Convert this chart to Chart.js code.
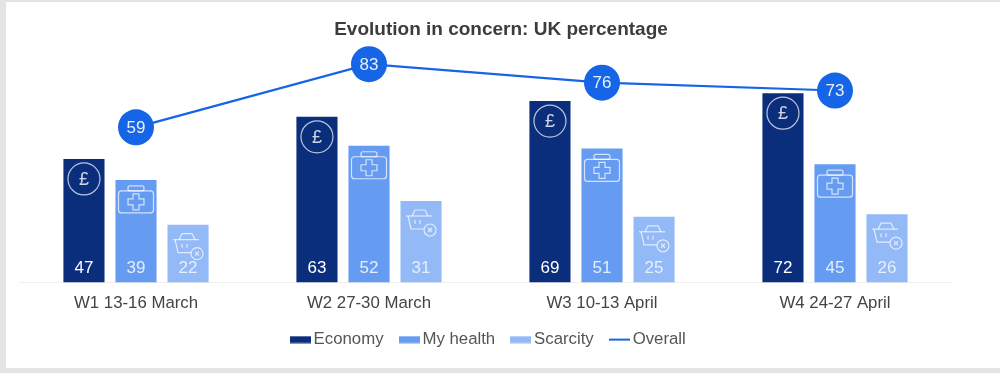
<!DOCTYPE html>
<html><head><meta charset="utf-8">
<script src="https://cdn.jsdelivr.net/npm/chart.js@4"></script>
<style>
html,body{margin:0;padding:0;background:#fff;width:1000px;height:373px;overflow:hidden}
#wrap{position:relative;width:1000px;height:373px}
.f{position:absolute;background:#e2e4e6}
canvas{position:absolute;left:0;top:0;filter:blur(0.4px)}
</style></head><body>
<div id="wrap">
<div class="f" style="left:0;top:0;width:1000px;height:2px"></div>
<div class="f" style="left:0;top:0;width:6px;height:373px"></div>
<div class="f" style="left:0;top:368px;width:1000px;height:5px"></div>
<canvas id="c" width="1000" height="373"></canvas>
</div>
<script>
const categories = ['W1 13-16 March','W2 27-30 March','W3 10-13 April','W4 24-27 April'];
const economy = [47,63,69,72];
const myHealth = [39,52,51,45];
const scarcity = [22,31,25,26];
const overall = [59,83,76,73];
const COL = {eco:'#0b2e7c',health:'#659cf2',scar:'#93b9f7',line:'#1565e6'};
const FONT = '"Liberation Sans", Arial, sans-serif';

function marker(color,h){
  const m=document.createElement('canvas');m.width=21;m.height=8;
  const x=m.getContext('2d');x.fillStyle=color;x.fillRect(0,(8-h)/2,21,h);return m;
}
const markers=[marker(COL.eco,7),marker(COL.health,7),marker(COL.scar,7),marker(COL.line,2)];

function poundIcon(ctx,el){
  const cx=el.x,cy=el.y+20;
  ctx.beginPath();ctx.arc(cx,cy,16,0,Math.PI*2);ctx.stroke();
  ctx.font='18px '+FONT;ctx.textAlign='center';ctx.textBaseline='middle';
  ctx.fillText('£',cx,cy+1);
}
function caseIcon(ctx,el){
  const cx=el.x,t=el.y+11;
  ctx.beginPath();ctx.roundRect(cx-17.5,t,35,22,3);ctx.stroke();
  ctx.beginPath();ctx.roundRect(cx-8,t-5,16,5,2);ctx.stroke();
  const c=t+11,a=3,b=8;
  ctx.beginPath();
  ctx.moveTo(cx-a,c-b);ctx.lineTo(cx+a,c-b);ctx.lineTo(cx+a,c-a);ctx.lineTo(cx+b,c-a);
  ctx.lineTo(cx+b,c+a);ctx.lineTo(cx+a,c+a);ctx.lineTo(cx+a,c+b);ctx.lineTo(cx-a,c+b);
  ctx.lineTo(cx-a,c+a);ctx.lineTo(cx-b,c+a);ctx.lineTo(cx-b,c-a);ctx.lineTo(cx-a,c-a);ctx.closePath();ctx.stroke();
}
function basketIcon(ctx,el){
  const cx=el.x-1,t=el.y+15;
  ctx.beginPath();ctx.moveTo(cx-14,t);ctx.lineTo(cx+12,t);ctx.stroke();
  ctx.beginPath();ctx.moveTo(cx-12,t);ctx.lineTo(cx-9,t+13);ctx.lineTo(cx+4,t+13);ctx.stroke();
  ctx.beginPath();ctx.moveTo(cx-8,t);ctx.lineTo(cx-5,t-6);ctx.lineTo(cx+5,t-6);ctx.lineTo(cx+8,t);ctx.stroke();
  ctx.beginPath();ctx.moveTo(cx-5,t+4);ctx.lineTo(cx-5,t+8);ctx.moveTo(cx,t+4);ctx.lineTo(cx,t+8);ctx.stroke();
  const bx=el.x+9,by=t+14;
  ctx.save();ctx.fillStyle=COL.scar;ctx.beginPath();ctx.arc(bx,by,6,0,Math.PI*2);ctx.fill();ctx.restore();
  ctx.beginPath();ctx.arc(bx,by,6,0,Math.PI*2);ctx.stroke();
  ctx.beginPath();ctx.moveTo(bx-2,by-2);ctx.lineTo(bx+2,by+2);ctx.moveTo(bx+2,by-2);ctx.lineTo(bx-2,by+2);ctx.stroke();
}
const icons=[poundIcon,caseIcon,basketIcon];
const labelColors=['#ffffff','#e4eefd','#e6effd'];

const decor={
  id:'decor',
  afterLayout(chart){
    chart.titleBlock.left+=15.5;chart.titleBlock.right+=15.5;
    chart.legend.left+=5;chart.legend.right+=5;
    chart.legend.top-=6;chart.legend.bottom-=6;
  },
  afterDatasetsDraw(chart){
    const ctx=chart.ctx,base=chart.scales.y.getPixelForValue(0);
    ctx.save();
    [0,1,2].forEach(i=>{
      const vals=chart.data.datasets[i].data;
      chart.getDatasetMeta(i).data.forEach((el,j)=>{
        ctx.strokeStyle='rgba(255,255,255,0.72)';ctx.fillStyle='rgba(255,255,255,0.8)';ctx.lineWidth=1.2;
        icons[i](ctx,el);
        ctx.fillStyle=labelColors[i];ctx.font='17px '+FONT;ctx.textAlign='center';ctx.textBaseline='middle';
        ctx.fillText(vals[j],el.x,base-14);
      });
    });
    const vals=chart.data.datasets[3].data;
    chart.getDatasetMeta(3).data.forEach((el,j)=>{
      ctx.fillStyle='#e8f0fd';ctx.font='17px '+FONT;ctx.textAlign='center';ctx.textBaseline='middle';
      ctx.fillText(vals[j],el.x,el.y+1);
    });
    ctx.restore();
  }
};

new Chart(document.getElementById('c'),{
  data:{labels:categories,datasets:[
    {type:'bar',label:'Economy',data:economy,backgroundColor:COL.eco,order:2},
    {type:'bar',label:'My health',data:myHealth,backgroundColor:COL.health,order:2},
    {type:'bar',label:'Scarcity',data:scarcity,backgroundColor:COL.scar,order:2},
    {type:'line',label:'Overall',data:overall,borderColor:COL.line,backgroundColor:COL.line,borderWidth:2.2,
     pointRadius:18,pointHoverRadius:18,pointBorderWidth:0,tension:0,order:1}
  ]},
  options:{
    responsive:false,animation:false,
    layout:{padding:{left:19.5,right:48.5,top:8,bottom:9}},
    datasets:{bar:{barPercentage:0.79,categoryPercentage:0.67}},
    scales:{
      x:{grid:{display:false},border:{color:'#eeeeee'},
         ticks:{color:'#444444',font:{family:FONT,size:16.8},padding:3,maxRotation:0}},
      y:{display:false,min:0,max:90}
    },
    plugins:{
      tooltip:{enabled:false},
      title:{display:true,text:'Evolution in concern: UK percentage',color:'#3c3c3c',
        font:{family:FONT,size:19,weight:'bold'},padding:{top:10,bottom:5}},
      legend:{position:'bottom',
        labels:{usePointStyle:true,pointStyleWidth:10,boxHeight:8,padding:20.5,color:'#555555',
          font:{family:FONT,size:16.8},
          generateLabels(chart){
            return chart.data.datasets.map((d,i)=>({text:d.label,pointStyle:markers[i],fontColor:'#555555',datasetIndex:i,hidden:false,lineWidth:0}));
          }}}
    }
  },
  plugins:[decor]
});
</script>
</body></html>
